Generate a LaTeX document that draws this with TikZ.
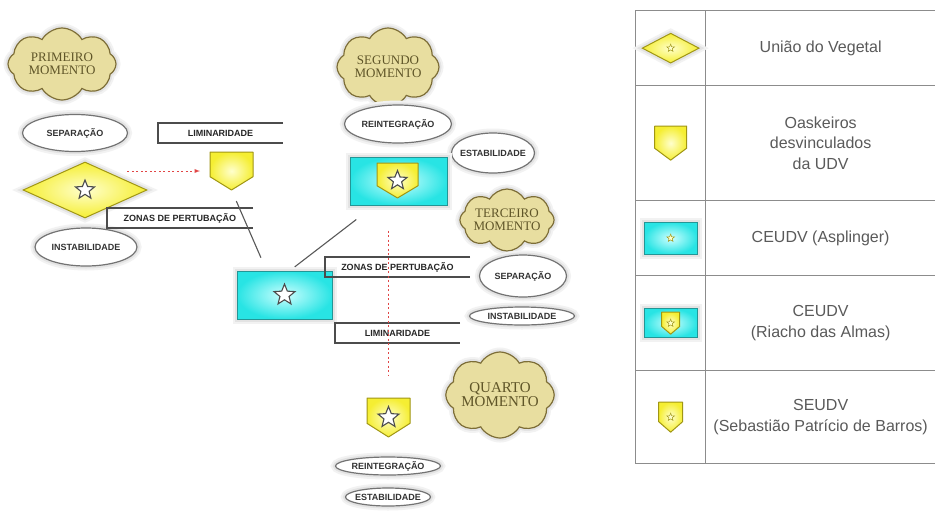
\documentclass[tikz,border=0pt]{standalone}
\usepackage{fontspec}
\setmainfont{Liberation Serif}
\setsansfont{Liberation Sans}
\usepackage{tikz}
\usetikzlibrary{matrix,positioning,shapes.geometric,shapes.symbols,calc,arrows}

\definecolor{cloudfill}{RGB}{232,222,160}
\definecolor{cloudline}{RGB}{125,110,55}
\definecolor{cloudtext}{RGB}{95,85,40}
\definecolor{yelin}{RGB}{255,255,205}
\definecolor{yelout}{RGB}{245,238,50}
\definecolor{yelline}{RGB}{160,150,20}
\definecolor{cyanin}{RGB}{205,255,255}
\definecolor{cyanout}{RGB}{40,228,228}
\definecolor{cyanline}{RGB}{35,150,150}
\definecolor{legtext}{RGB}{90,90,90}
\definecolor{redline}{RGB}{225,70,70}

\begin{document}
\begin{tikzpicture}[
x=1pt, y=-1pt,
halo/.style={
  preaction={draw=black!5, line width=9pt},
  preaction={draw=black!11, line width=5pt}
  },
moment/.style={
  cloud, cloud puffs=8, cloud puff arc=120, cloud ignores aspect,
  draw=cloudline, line width=1.2pt, fill=cloudfill, halo,
  font=\rmfamily\fontsize{13}{12.5}\selectfont, text=cloudtext,
  align=center, inner sep=0pt
  },
state/.style={
  ellipse, draw=black!55, line width=1.2pt, fill=white, halo,
  font=\sffamily\bfseries\fontsize{9}{9}\selectfont, text=black!80,
  inner xsep=-5pt, inner ysep=0pt
  },
openbox/.style={
  draw=none, inner sep=0pt, outer sep=0pt, minimum height=20pt,
  font=\sffamily\bfseries\fontsize{9}{9}\selectfont, text=black!85
  },
boxline/.style={draw=black!70, line width=1.1pt},
udv/.style={
  diamond, draw=yelline, line width=1pt, inner color=yelin,
  outer color=yelout, halo, inner sep=0pt
  },
centro/.style={
  rectangle, draw=cyanline, line width=1pt, inner color=cyanin,
  outer color=cyanout, halo, inner sep=0pt
  },
shield/.style={rectangle, draw=none, inner sep=0pt, outer sep=0pt},
shieldfill/.style={
  draw=yelline, line width=1pt, inner color=yelin, outer color=yelout,
  line join=round
  },
star5/.style={
  star, star points=5, star point ratio=2.3, draw=black!70, fill=white,
  line width=1.1pt, minimum size=#1, inner sep=0pt
  },
star5/.default=20pt,
link/.style={draw=black!65, line width=1.1pt},
reddash/.style={draw=redline, line width=0.9pt, dash pattern=on 2pt off 2.5pt},
legend/.style={
  matrix of nodes,
  nodes in empty cells,
  inner sep=0pt,
  nodes={
    draw=black!45, line width=0.9pt, anchor=center,
    inner sep=0pt, outer sep=0pt,
    font=\sffamily\fontsize{16}{20.5}\selectfont, text=legtext
    },
  column 1/.style={nodes={minimum width=70pt}},
  column 2/.style={nodes={minimum width=230pt}},
  row 1/.style={nodes={minimum height=75pt}},
  row 2/.style={nodes={minimum height=115pt}},
  row 3/.style={nodes={minimum height=75pt}},
  row 4/.style={nodes={minimum height=95pt}},
  row 5/.style={nodes={minimum height=93pt}},
  column sep=-0.9pt,
  row sep=-0.9pt
  },
>=latex
]
\fill[white] (0,0) rectangle (935,515);
\useasboundingbox (0,0) rectangle (935,515);

% momentos
\node[moment, minimum width=108pt, minimum height=72pt] (m1) at (62,64) {PRIMEIRO\\MOMENTO};
\node[moment, minimum width=102pt, minimum height=78pt] (m2) at (388,67) {SEGUNDO\\MOMENTO};
\node[moment, minimum width=92pt, minimum height=62pt] (m3) at (507,220) {TERCEIRO\\MOMENTO};
\node[moment, minimum width=106pt, minimum height=86pt,
  font=\rmfamily\fontsize{15}{14}\selectfont] (m4) at (500,395) {QUARTO\\MOMENTO};

% estados
\node[state, minimum width=105pt, minimum height=37pt] (sep1) at (75,133) {SEPARAÇÃO};
\node[state, minimum width=102pt, minimum height=38pt] (ins1) at (86,247) {INSTABILIDADE};
\node[state, minimum width=107pt, minimum height=38pt] (rei1) at (398,124) {REINTEGRAÇÃO};
\node[state, minimum width=83pt, minimum height=40pt] (est1) at (493,153) {ESTABILIDADE};
\node[state, minimum width=87pt, minimum height=42pt] (sep2) at (523,276) {SEPARAÇÃO};
\node[state, minimum width=105pt, minimum height=18pt] (ins2) at (522,316) {INSTABILIDADE};
\node[state, minimum width=105pt, minimum height=18pt] (rei2) at (388,466) {REINTEGRAÇÃO};
\node[state, minimum width=85pt, minimum height=18pt] (est2) at (388,497) {ESTABILIDADE};

% grupos
\node[udv, minimum width=124pt, minimum height=56pt] (dia) at (85,190) {};
\node[centro, minimum width=95pt, minimum height=48pt] (cy1) at (284.5,295) {};
\node[centro, minimum width=97pt, minimum height=48pt] (cy2) at (398.5,181) {};

\node[openbox, minimum width=125pt] (lim1) at (220.5,133) {LIMINARIDADE};
\node[openbox, minimum width=146pt] (zon1) at (180,218) {ZONAS DE PERTUBAÇÃO};
\node[openbox, minimum width=145pt] (zon2) at (397.5,267) {ZONAS DE PERTUBAÇÃO};
\node[openbox, minimum width=125pt] (lim2) at (397.5,333) {LIMINARIDADE};
\foreach \b in {lim1,zon1,zon2,lim2}
  \draw[boxline] (\b.north east) -- (\b.north west) -- (\b.south west) -- (\b.south east);

% legenda
\matrix[legend, anchor=north west] (tab) at (635,10)
{
 & União do Vegetal \\
 & \parbox{220pt}{\centering Oaskeiros\\desvinculados\\da UDV} \\
 & CEUDV (Asplinger) \\
 & \parbox{220pt}{\centering CEUDV\\(Riacho das Almas)} \\
 & \parbox{226pt}{\centering SEUDV\\(Sebastião Patrício de Barros)} \\
};
\node[udv, minimum width=57pt, minimum height=30pt] (ldia) at (tab-1-1) {};
\node[centro, minimum width=53pt, minimum height=32pt] (lcy3) at (tab-3-1) {};
\node[centro, minimum width=53pt, minimum height=29pt] (lcy4) at (tab-4-1) {};

% escudos
\node[shield, minimum width=43pt, minimum height=38pt] (sh1) at (231.5,171) {};
\node[shield, minimum width=41pt, minimum height=35pt] (sh2) at (397.5,180.5) {};
\node[shield, minimum width=43pt, minimum height=39pt] (sh3) at (388.5,417.5) {};
\node[shield, minimum width=32pt, minimum height=34pt] (lsh2) at (tab-2-1) {};
\node[shield, minimum width=18pt, minimum height=22pt] (lsh4) at (tab-4-1) {};
\node[shield, minimum width=24pt, minimum height=30pt] (lsh5) at (tab-5-1) {};
\foreach \s in {sh1,sh2,sh3,lsh2,lsh4,lsh5}
  \shadedraw[shieldfill] (\s.north west) -- (\s.north east)
    -- ($(\s.south east)!0.35!(\s.north east)$) -- (\s.south)
    -- ($(\s.south west)!0.35!(\s.north west)$) -- cycle;

% estrelas
\foreach \n/\sz in {dia/20pt,cy1/22pt,sh2/20pt,sh3/22pt}
  \node[star5=\sz] (star-\n) at (\n) {};
\foreach \n in {ldia,lcy3,lsh4,lsh5}
  \node[star5=8pt, line width=0.5pt, draw=yelline, fill=yelin] (star-\n) at (\n) {};

% ligacoes
\draw[link, shorten <=12pt, shorten >=14pt] (sh1.south) -- ([xshift=30pt]cy1.north west);
\draw[link, shorten <=6pt, shorten >=23pt] ([xshift=5.5pt]cy1.north) -- ([xshift=25pt]cy2.south west);
\draw[reddash, ->, shorten <=11pt, shorten >=10pt] (dia.north east |- sh1.west) -- (sh1.west);
\draw[reddash, shorten <=25pt, shorten >=23pt] (sh3.north |- cy2.south) -- (sh3.north);
\end{tikzpicture}
\end{document}
